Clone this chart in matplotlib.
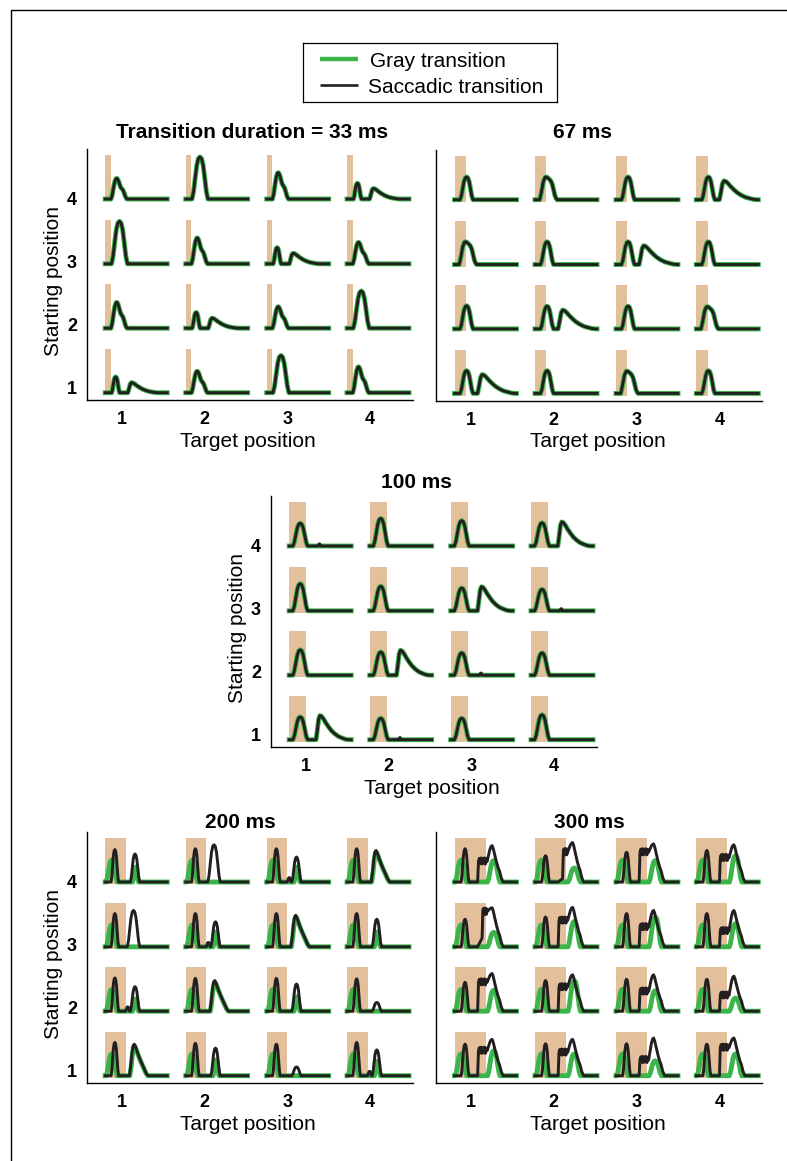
import matplotlib
matplotlib.use("Agg")
import matplotlib.pyplot as plt

plt.rcParams['font.family'] = ['Liberation Sans', 'DejaVu Sans']

# ---------------- data ----------------
# rows are listed top to bottom (starting position 4, 3, 2, 1), columns = target 1..4
TARGET_LABELS = ['1', '2', '3', '4']
START_LABELS = ['1', '2', '3', '4']
LEGEND_LABELS = ['Gray transition', 'Saccadic transition']
DURATIONS = [33, 67, 100, 200, 300]          # transition duration (ms), tan box
WINDOWS = [365, 365, 365, 600, 600]          # time shown in each small trace (ms)

# 33 ms
P1_KIND = [['shoulder', 'single', 'shoulder', 'double'],
           ['single', 'shoulder', 'double', 'shoulder'],
           ['shoulder', 'double', 'shoulder', 'single'],
           ['double', 'shoulder', 'single', 'shoulder']]
P1_AMP = [[.47, .96, .60, .36], [.97, .59, .37, .49], [.59, .36, .49, .85], [.36, .49, .85, .59]]
P1_AMP2 = [[0, 0, 0, .24], [0, 0, .24, 0], [0, .23, 0, 0], [.23, 0, 0, 0]]

# 67 ms
P2_KIND = [['single', 'plateau', 'single', 'double'],
           ['plateau', 'single', 'double', 'single'],
           ['single', 'double', 'single', 'plateau'],
           ['double', 'single', 'plateau', 'single']]
P2_AMP = [[.52, .52, .52, .52], [.52, .52, .52, .52], [.53, .52, .52, .51], [.52, .52, .51, .52]]
P2_AMP2 = [[0, 0, 0, .43], [0, 0, .43, 0], [0, .43, 0, 0], [.43, 0, 0, 0]]

# 100 ms
P3_KIND = [['blip', 'single', 'single', 'double'],
           ['single', 'single', 'double', 'blip'],
           ['single', 'double', 'blip', 'single'],
           ['double', 'blip', 'single', 'single']]
P3_AMP = [[.52, .63, .58, .53], [.62, .56, .52, .49], [.58, .53, .51, .51], [.52, .49, .49, .57]]
P3_AMP2 = [[0, 0, 0, .55], [0, 0, .55, 0], [0, .57, 0, 0], [.55, 0, 0, 0]]

# 200 ms
P4_B1 = [[.74, .76, .76, .76], [.76, .76, .76, .76], [.76, .75, .75, .74], [.76, .74, .72, .76]]
P4_KIND = [['narrow', 'tall', 'bump', 'ramp'],
           ['tall', 'bump', 'ramp', 'narrow'],
           ['bump', 'ramp', 'narrow', 'narrow'],
           ['ramp', 'narrow', 'narrow', 'bump']]
P4_B2 = [[.64, .85, .57, .72], [.83, .57, .72, .63], [.56, .70, .62, .20], [.72, .63, .20, .59]]
P4_G2 = [[.34, 0, .34, .68], [0, .34, .68, .34], [.28, .66, .33, 0], [.68, .36, 0, .33]]

# 300 ms
P5_B1 = [[.76, .60, .68, .72], [.63, .68, .76, .76], [.66, .70, .73, .73], [.72, .73, .73, .72]]
P5_PRE = [[0, .08, 0, 0], [.2, 0, 0, 0], [0, 0, 0, 0], [0, 0, 0, 0]]
P5_PLAT = [[.47, .68, .68, .55], [.80, .60, .45, .36], [.66, .55, .45, .36], [.57, .53, .36, .64]]
P5_PEAK = [[.83, .90, .87, .85], [.89, .90, .83, .83], [.86, .83, .83, .80], [.83, .83, .86, .86]]
P5_G2 = [[.49, .32, .49, .60], [.33, .58, .68, .53], [.48, .70, .47, .30], [.57, .50, .34, .50]]
GRAY_FIRST_AMP = 0.5

# (onset ms, duration ms) of each response piece
P1_T = {'single': (37, 94), 'shoulder': (34, 94), 'double': (38, 47), 'tail': (133, 178)}
P2_T = {'single': (33, 76), 'plateau': (28, 102), 'double': (33, 76), 'tail': (136, 222)}
P3_T = {'single': (22, 86), 'double': (22, 86), 'blip': (22, 86), 'tail': (158, 192), 'dot': (171, 14)}
P4_T = {'g1': (10, 106), 'b1': (57, 73), 'narrow': (244, 89), 'tall': (214, 120),
        'ramp': (234, 180), 'pre': (198, 40), 'g2': (265, 58), 'g2ramp': (239, 174)}
P5_T = {'g1': (8, 110), 'b1': (64, 76), 'b2': 224, 'g2': (320, 120)}

# normalised response shapes (time fraction, height fraction)
SHAPES = {
    'single': ([0, .1, .2, .3, .4, .5, .6, .7, .8, .9, 1],
               [0, .18, .5, .8, .96, 1, .96, .8, .5, .18, 0]),
    'shoulder': ([0, .08, .16, .24, .32, .38, .45, .53, .6, .68, .76, .84, .92, 1],
                 [0, .2, .55, .85, .99, 1, .92, .74, .58, .5, .42, .26, .09, 0]),
    'plateau': ([0, .1, .2, .3, .38, .46, .55, .64, .72, .8, .88, .95, 1],
                [0, .35, .78, .98, 1, .96, .9, .82, .68, .43, .17, .05, 0]),
    'tail': ([0, .04, .08, .12, .17, .23, .3, .38, .47, .57, .68, .8, .9, 1],
             [0, .4, .85, 1, .97, .86, .7, .54, .38, .25, .14, .07, .02, 0]),
    'ramp': ([0, .07, .14, .2, .26, .32, .42, .54, .66, .78, .9, 1],
             [0, .3, .72, .95, 1, .93, .76, .57, .4, .24, .08, 0]),
}
JITTER = [0, .07, -.05, .08, -.06, .07, -.04, .08, -.06, .06, 0]
RISE = [(104, .35), (118, .75), (130, .95), (140, 1.0)]
FALL = [(150, .93), (165, .75), (185, .52), (200, .38), (212, .3), (228, .12), (246, 0)]

GREEN = '#3bb54a'
BLACK = '#231f20'
TAN = '#e3bf9b'

W, H = 787, 1161
fig = plt.figure(figsize=(W / 100, H / 100), dpi=100)


def px_axes(x, y_bottom, w, h):
    return fig.add_axes([x / W, 1 - y_bottom / H, w / W, h / H])


def pulse(timing, amp, shape):
    t0, dur = timing
    xs, ys = SHAPES[shape]
    return [t0 + x * dur for x in xs], [amp * y for y in ys]


def saccade_piece(onset, pre, plateau, peak):
    ts, ys = [onset], [0.0]
    if pre > 0:
        ts += [onset + 43, onset + 50]
        ys += [pre, plateau]
        p0 = onset + 50
    else:
        ts.append(onset + 8)
        ys.append(plateau)
        p0 = onset + 8
    p1 = onset + 92
    for k, j in enumerate(JITTER):
        ts.append(p0 + (p1 - p0) * k / (len(JITTER) - 1))
        ys.append(plateau + j)
    for dt, f in RISE:
        ts.append(onset + dt)
        ys.append(plateau + (peak - plateau) * f)
    for dt, f in FALL:
        ts.append(onset + dt)
        ys.append(peak * f)
    return ts, ys


def join(pieces, window):
    ts, ys = [0], [0]
    for pt, py in sorted(pieces, key=lambda p: p[0][0]):
        ts += pt
        ys += py
    ts.append(window)
    ys.append(0)
    return ts, ys


def early_cell(kind, amp, amp2, T, window):
    if kind == 'double':
        pieces = [pulse(T['double'], amp, 'single'), pulse(T['tail'], amp2, 'tail')]
    elif kind == 'blip':
        pieces = [pulse(T['blip'], amp, 'single')]
    else:
        pieces = [pulse(T[kind], amp, kind)]
    green = join(pieces, window)
    if kind == 'blip':
        pieces = pieces + [pulse(T['dot'], 0.05, 'single')]
    return green, join(pieces, window)


def cell_200(r, c, window):
    T = P4_T
    kind = P4_KIND[r][c]
    g = [pulse(T['g1'], GRAY_FIRST_AMP, 'single')]
    b = [pulse(T['b1'], P4_B1[r][c], 'single')]
    if kind == 'ramp':
        b.append(pulse(T['ramp'], P4_B2[r][c], 'ramp'))
        g.append(pulse(T['g2ramp'], P4_G2[r][c], 'ramp'))
    else:
        b.append(pulse(T['tall' if kind == 'tall' else 'narrow'], P4_B2[r][c], 'single'))
        if kind == 'bump':
            b.append(pulse(T['pre'], 0.1, 'single'))
        if P4_G2[r][c] > 0:
            g.append(pulse(T['g2'], P4_G2[r][c], 'single'))
    return join(g, window), join(b, window)


def cell_300(r, c, window):
    T = P5_T
    g = [pulse(T['g1'], GRAY_FIRST_AMP, 'single'), pulse(T['g2'], P5_G2[r][c], 'single')]
    b = [pulse(T['b1'], P5_B1[r][c], 'single'),
         saccade_piece(T['b2'], P5_PRE[r][c], P5_PLAT[r][c], P5_PEAK[r][c])]
    return join(g, window), join(b, window)


# ---------------- layout (pixels) ----------------
PANEL_W, PANEL_H = 326, 251
COL_OFF = [18.5, 99, 180, 260.3]
ROW_BASE = [201, 136.2, 71.8, 7.3]       # baseline height above x axis, top row first
PANELS = [
    dict(x=86.7, y=400, title='Transition duration = 33 ms', tx=165.3, ty=262.5, ylab=True),
    dict(x=436, y=400.7, title='67 ms', tx=146.7, ty=262.7, ylab=False),
    dict(x=270.7, y=747, title='100 ms', tx=146, ty=258.7, ylab=True),
    dict(x=86.7, y=1083, title='200 ms', tx=153.8, ty=254.7, ylab=True),
    dict(x=436, y=1083, title='300 ms', tx=153.5, ty=255.3, ylab=False),
]

for p, spec in enumerate(PANELS):
    ax = px_axes(spec['x'], spec['y'], PANEL_W, PANEL_H)
    ax.patch.set_visible(False)
    ax.set_xlim(0.58, 4.515)
    ax.set_ylim(0.80, 4.78)
    for s in ['top', 'right']:
        ax.spines[s].set_visible(False)
    for s in ['left', 'bottom']:
        ax.spines[s].set_linewidth(1.0)
    ax.set_xticks([1, 2, 3, 4])
    ax.set_xticklabels(TARGET_LABELS, fontsize=13, fontweight='bold')
    if spec['ylab']:
        ax.set_yticks([1, 2, 3, 4])
        ax.set_yticklabels(START_LABELS, fontsize=13, fontweight='bold')
        ax.text(-33.5 / PANEL_W, 119 / PANEL_H, 'Starting position', transform=ax.transAxes,
                rotation=90, ha='center', va='center', fontsize=15)
    else:
        ax.set_yticks([])
    ax.tick_params(axis='x', length=0, pad=8)
    ax.tick_params(axis='y', length=0, pad=7)
    ax.text(161.5 / PANEL_W, -46.7 / PANEL_H, 'Target position', transform=ax.transAxes,
            ha='center', va='baseline', fontsize=15)
    ax.text(spec['tx'] / PANEL_W, spec['ty'] / PANEL_H, spec['title'], transform=ax.transAxes,
            ha='center', va='baseline', fontsize=15, fontweight='bold')

    window = WINDOWS[p]
    for r in range(4):
        for c in range(4):
            if p == 0:
                (gt, gy), (bt, by) = early_cell(P1_KIND[r][c], P1_AMP[r][c], P1_AMP2[r][c], P1_T, window)
            elif p == 1:
                (gt, gy), (bt, by) = early_cell(P2_KIND[r][c], P2_AMP[r][c], P2_AMP2[r][c], P2_T, window)
            elif p == 2:
                (gt, gy), (bt, by) = early_cell(P3_KIND[r][c], P3_AMP[r][c], P3_AMP2[r][c], P3_T, window)
            elif p == 3:
                (gt, gy), (bt, by) = cell_200(r, c, window)
            else:
                (gt, gy), (bt, by) = cell_300(r, c, window)
            cell = px_axes(spec['x'] + COL_OFF[c], spec['y'] - ROW_BASE[r] + 2.2, 62, 46)
            cell.set_xlim(0, window)
            cell.set_ylim(-0.05, 1.0)
            cell.axis('off')
            cell.axvspan(0, DURATIONS[p], color=TAN, lw=0, zorder=1)
            cell.plot(gt, gy, color=GREEN, lw=3.5, solid_joinstyle='round',
                      clip_on=False, zorder=2)
            cell.plot(bt, by, color=BLACK, lw=2.1, solid_joinstyle='round',
                      clip_on=False, zorder=3)

# legend box
lax = px_axes(303, 102, 254, 59)
lax.set_xlim(0, 254)
lax.set_ylim(0, 59)
lax.set_xticks([])
lax.set_yticks([])
for s in lax.spines.values():
    s.set_linewidth(0.9)
lax.plot([17, 54.5], [42.7, 42.7], color=GREEN, lw=3.2, solid_capstyle='butt')
lax.plot([17, 54.5], [17, 17], color=BLACK, lw=1.9, solid_capstyle='butt')
lax.text(67, 35.3, LEGEND_LABELS[0], fontsize=15, va='baseline')
lax.text(65.5, 9.3, LEGEND_LABELS[1], fontsize=15, va='baseline')

# outer frame of the figure
fig.add_artist(plt.Line2D([11 / W, 11 / W, 1], [0, 1 - 9.5 / H, 1 - 9.5 / H],
                          color='black', lw=1.0, transform=fig.transFigure))

fig.savefig('out.png', dpi=100)
